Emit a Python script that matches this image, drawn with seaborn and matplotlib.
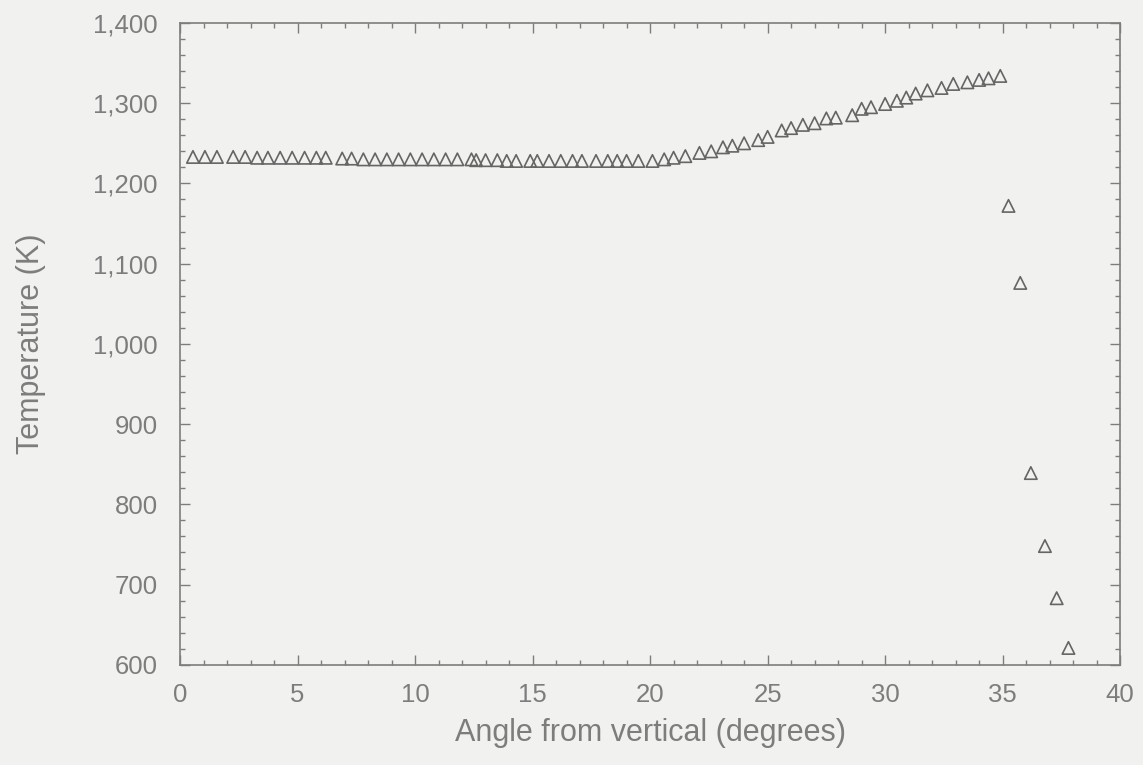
import pandas as pd
import matplotlib.pyplot as plt
import seaborn as sns
from matplotlib.ticker import MultipleLocator, FuncFormatter

# angle (degrees) and temperature (K)
angle = [0.55, 1.06, 1.57, 2.26, 2.77, 3.28, 3.74, 4.26, 4.77, 5.3, 5.8, 6.2,
         6.9, 7.3, 7.8, 8.3, 8.8, 9.3, 9.8, 10.3, 10.8, 11.3, 11.8, 12.4, 12.6,
         13.0, 13.5, 13.9, 14.3, 14.9, 15.2, 15.7, 16.2, 16.7, 17.1, 17.7, 18.2,
         18.6, 19.0, 19.5, 20.1,
         20.6, 21.0, 21.5, 22.1, 22.6, 23.1, 23.5, 24.0, 24.6, 25.0,
         25.6, 26.0, 26.5, 27.0, 27.5, 27.9, 28.6, 29.0, 29.4, 30.0, 30.5, 30.9,
         31.3, 31.8, 32.4, 32.9, 33.5, 34.0, 34.4, 34.9,
         35.25, 35.75, 36.2, 36.8, 37.3, 37.8]
temp = [1233, 1233, 1233, 1233, 1233, 1232, 1232, 1232, 1232, 1232, 1232, 1232,
        1231, 1231, 1230, 1230, 1230, 1230, 1230, 1230, 1230, 1230, 1230, 1230, 1229,
        1229, 1229, 1228, 1228, 1228, 1228, 1228, 1228, 1228, 1228, 1228, 1228,
        1228, 1228, 1228, 1228,
        1230, 1232, 1234, 1238, 1240, 1245, 1247, 1250, 1254, 1258,
        1266, 1269, 1273, 1275, 1281, 1282, 1285, 1293, 1295, 1299, 1303, 1307,
        1312, 1316, 1319, 1324, 1326, 1329, 1331, 1334,
        1172, 1076, 839, 748, 683, 621]

df = pd.DataFrame({"angle": angle, "temp": temp})

sns.set_style("ticks")
plt.rcParams["font.family"] = ["Liberation Sans", "DejaVu Sans"]

grey = "#7d7d7d"
bg = "#f1f1f0"

fig = plt.figure(figsize=(11.43, 7.65), dpi=100, facecolor=bg)
ax = fig.add_axes([0.1575, 0.131, 0.8225, 0.839])
ax.set_facecolor(bg)

sns.scatterplot(data=df, x="angle", y="temp", marker="^", s=80,
                facecolor="none", edgecolor="#656565", linewidth=1.2, ax=ax)

ax.set_xlim(0, 40)
ax.set_ylim(600, 1400)
ax.xaxis.set_major_locator(MultipleLocator(5))
ax.xaxis.set_minor_locator(MultipleLocator(1))
ax.yaxis.set_major_locator(MultipleLocator(100))
ax.yaxis.set_minor_locator(MultipleLocator(20))
ax.yaxis.set_major_formatter(FuncFormatter(lambda v, p: f"{int(v):,}"))

ax.tick_params(which="both", direction="in", top=True, right=True,
               color=grey, labelcolor=grey, labelsize=18.5, width=1)
ax.tick_params(which="major", length=7)
ax.tick_params(which="minor", length=3.5)
ax.tick_params(axis="x", which="major", pad=13)
ax.tick_params(axis="y", which="major", pad=16)
for s in ax.spines.values():
    s.set_color(grey)
    s.set_linewidth(1.2)

ax.set_xlabel("Angle from vertical (degrees)", fontsize=22, color=grey, labelpad=8)
ax.set_ylabel("Temperature (K)", fontsize=22, color=grey, labelpad=34)

fig.savefig("out.png", dpi=100, facecolor=bg)
